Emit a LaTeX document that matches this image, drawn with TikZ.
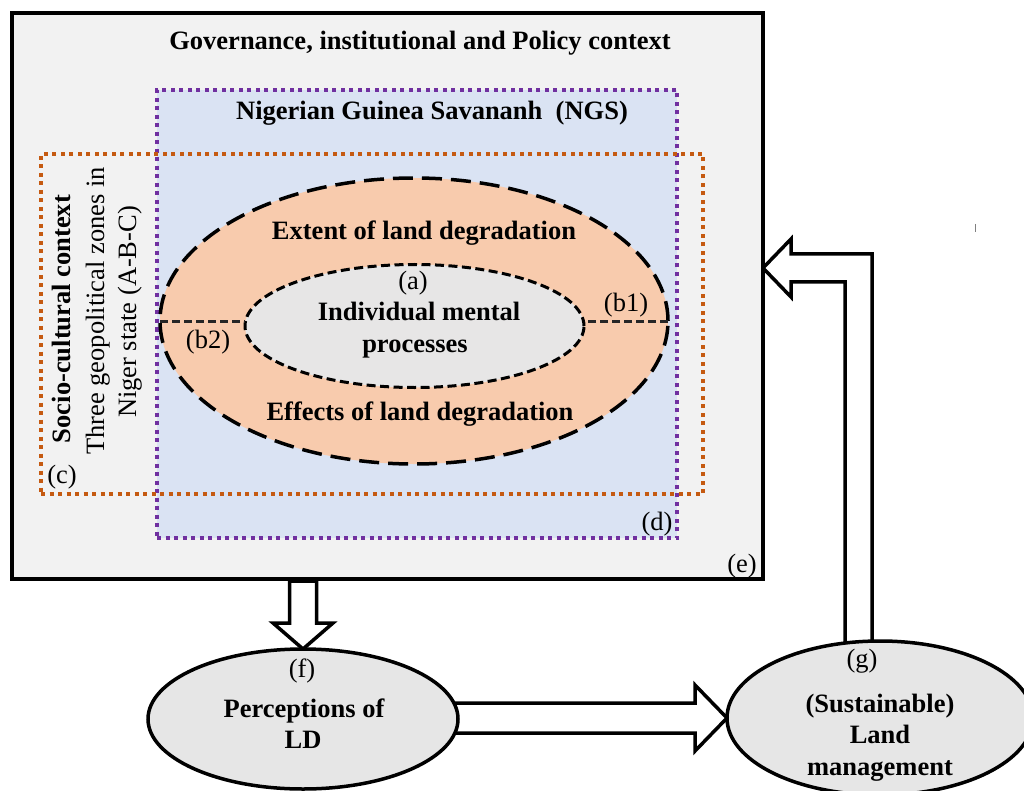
\documentclass[tikz,border=0pt]{standalone}
\usepackage{fontspec}
\setmainfont{Liberation Serif}
\usetikzlibrary{shapes.geometric,calc}
\pgfdeclarelayer{bottom}
\pgfdeclarelayer{back}
\pgfsetlayers{bottom,back,main}
\definecolor{boxgray}{HTML}{F2F2F2}
\definecolor{ngsblue}{HTML}{DAE3F3}
\definecolor{ngspurple}{HTML}{7030A0}
\definecolor{socorange}{HTML}{C55A11}
\definecolor{peach}{HTML}{F8CBAD}
\definecolor{innergray}{HTML}{E7E6E6}
\definecolor{ellgray}{HTML}{E6E6E6}
\newcommand\figsz{\fontsize{26.5}{32}\selectfont}
\begin{document}
\begin{tikzpicture}[x=1pt,y=-1pt,
  every node/.style={font=\figsz},
  frame/.style={rectangle,draw=black,line width=4pt,fill=boxgray,inner sep=0pt,outer sep=0pt},
  ngsbox/.style={rectangle,draw=ngspurple,line width=4pt,dash pattern=on 4pt off 4.5pt,fill=ngsblue,inner sep=0pt,outer sep=0pt},
  socbox/.style={rectangle,draw=socorange,line width=4pt,dash pattern=on 4pt off 4.5pt,inner sep=0pt,outer sep=0pt},
  outerell/.style={ellipse,draw=black,line width=3.5pt,dash pattern=on 20pt off 9pt,fill=peach,inner sep=0pt,outer sep=0pt},
  innerell/.style={ellipse,draw=black,line width=3pt,dash pattern=on 9pt off 4.5pt,fill=innergray,inner sep=0pt,outer sep=0pt},
  linkline/.style={draw=black!85,line width=3pt,dash pattern=on 8pt off 4pt},
  bottomell/.style={ellipse,draw=black,line width=3.5pt,fill=ellgray,inner sep=0pt,outer sep=0pt},
  blockarrow/.style={draw=black,line width=3.5pt,fill=white,line join=miter},
  lbl/.style={anchor=base,inner sep=0pt},
  blbl/.style={lbl,font=\figsz\bfseries}]
\useasboundingbox (0,0) rectangle (1024,791);
\clip (0,0) rectangle (1024,791);
\begin{pgfonlayer}{bottom}
\fill[white] (0,0) rectangle (1024,791);
\end{pgfonlayer}

% boxes
\node[frame,minimum width=751pt,minimum height=566pt] (e) at (387.5,296) {};
\node[ngsbox,minimum width=520pt,minimum height=448pt] (d) at (417,314) {};
\node[socbox,minimum width=662pt,minimum height=340pt] (c) at (372,324) {};

% ellipses
\node[outerell,minimum width=508pt,minimum height=286pt] (ld) at (414,321) {};
\node[innerell,minimum width=339pt,minimum height=123pt] (imp) at (414.5,326) {};
\draw[linkline] (ld.west) -- (ld.west -| imp.west);
\draw[linkline] (ld.east) -- (ld.east -| imp.east);

% texts in the top figure
\node[blbl] (tgov) at (420,50) {Governance, institutional and Policy context};
\node[blbl] (tngs) at (432,120) {Nigerian Guinea Savananh\ \ (NGS)};
\node[blbl] (text) at (424,240) {Extent of land degradation};
\node[lbl] (ta) at (413,290) {(a)};
\node[blbl] (timp1) at (419,320) {Individual mental};
\node[blbl] (timp2) at (415,352) {processes};
\node[blbl] (teff) at (420,420) {Effects of land degradation};
\node[lbl] (tb1) at (626,312) {(b1)};
\node[lbl] (tb2) at (208,348) {(b2)};
\node[blbl,rotate=90] (tsoc) at (70,319) {Socio-cultural context};
\node[lbl,rotate=90] (tzone1) at (104,311) {Three geopolitical zones in};
\node[lbl,rotate=90] (tzone2) at (136,312) {Niger state (A-B-C)};
\node[lbl] (tc) at (62,483) {(c)};
\node[lbl] (td) at (657,530) {(d)};
\node[lbl] (te) at (742,572) {(e)};

% bottom ellipses
\node[bottomell,minimum width=310pt,minimum height=140pt] (perc) at (303,719) {};
\node[bottomell,minimum width=306pt,minimum height=154pt] (lm) at (880,718) {};
\node[lbl] (tf) at (302,677) {(f)};
\node[blbl] (tperc1) at (304,717) {Perceptions of};
\node[blbl] (tperc2) at (303,748) {LD};
\node[lbl] (tg) at (862,667) {(g)};
\node[blbl] (tlm1) at (880,712) {(Sustainable)};
\node[blbl] (tlm2) at (880,743) {Land};
\node[blbl] (tlm3) at (880,775) {management};

% block arrows
\coordinate (bend) at (858.5,268);
\coordinate (etip) at (e.east |- bend);
\begin{pgfonlayer}{back}
\draw[blockarrow] ($(perc.north |- e.south)+(-13.5,2)$) -- ($(perc.north)+(-13.5,-26)$)
  -- ($(perc.north)+(-30,-26)$) -- (perc.north) -- ($(perc.north)+(30,-26)$)
  -- ($(perc.north)+(13.5,-26)$) -- ($(perc.north |- e.south)+(13.5,2)$) -- cycle;
\draw[blockarrow] ($(perc.east |- lm.west)+(-8,-15)$) -- ($(lm.west)+(-32,-15)$)
  -- ($(lm.west)+(-32,-33)$) -- (lm.west) -- ($(lm.west)+(-32,33)$)
  -- ($(lm.west)+(-32,15)$) -- ($(perc.east |- lm.west)+(-8,15)$);
\draw[blockarrow] ($(bend |- lm.north)+(-13.5,15)$) -- ($(bend)+(-13.5,14)$)
  -- ($(etip)+(28,14)$) -- ($(etip)+(28,29)$) -- (etip) -- ($(etip)+(28,-29)$)
  -- ($(etip)+(28,-14)$) -- ($(bend)+(13.5,-14)$) -- ($(bend |- lm.north)+(13.5,15)$);
\end{pgfonlayer}

% small stray tick
\coordinate (tick) at (975,224);
\draw[gray,line width=1pt] (tick) -- ++(0,8);
\end{tikzpicture}
\end{document}
